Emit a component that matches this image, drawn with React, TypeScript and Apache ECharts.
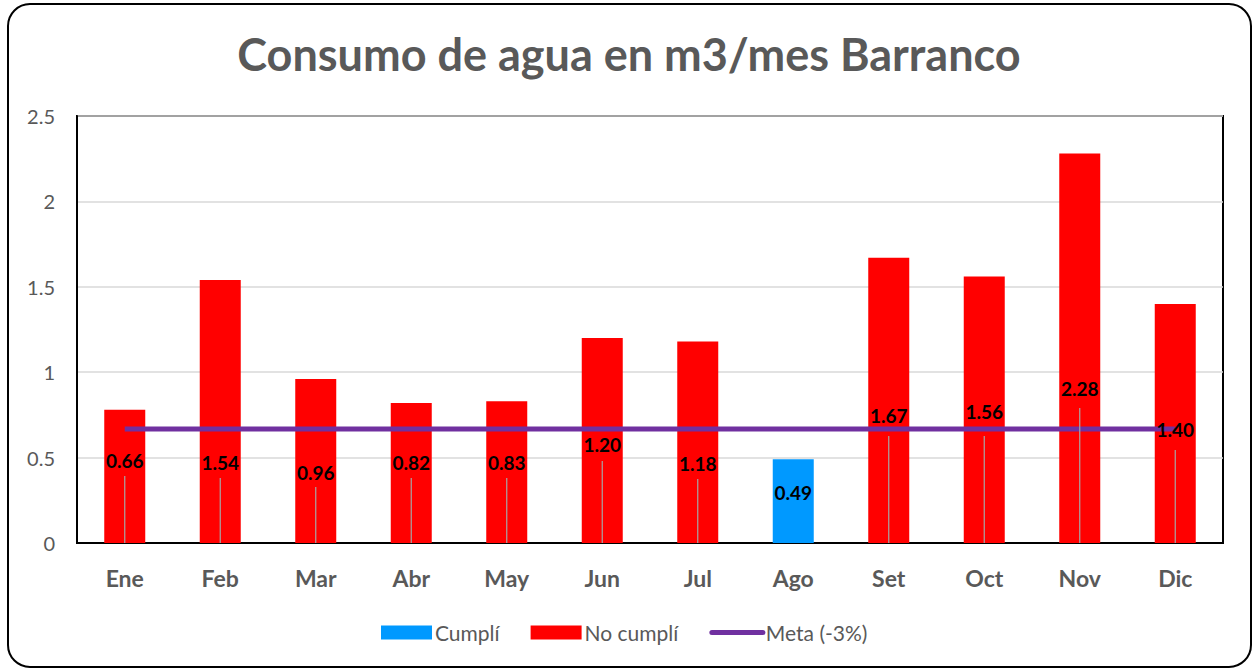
import React, { useEffect, useRef } from "react";
import * as echarts from "echarts";

const meses = ["Ene", "Feb", "Mar", "Abr", "May", "Jun", "Jul", "Ago", "Set", "Oct", "Nov", "Dic"];
const consumo = [0.78, 1.54, 0.96, 0.82, 0.83, 1.2, 1.18, 0.49, 1.67, 1.56, 2.28, 1.4];
const etiquetas = [0.66, 1.54, 0.96, 0.82, 0.83, 1.2, 1.18, 0.49, 1.67, 1.56, 2.28, 1.4];
const metaValor = 0.667;
const yTicks = [0, 0.5, 1, 1.5, 2, 2.5];

// label layout (pixels above the baseline): text centre and leader-line top
const labelLift = [83, 81, 71, 81, 81, 99, 80, 51, 128, 132, 155, 114];
const lineLift = [67, 65, 56, 65, 65, 82, 64, 0, 107, 107, 135, 93];

const GRAY = "#595959";
const FONT = "Lato, 'Noto Sans', sans-serif";

export default function App() {
  const ref = useRef<HTMLDivElement>(null);
  useEffect(() => {
    if (!ref.current) return;
    const chart = echarts.init(ref.current, undefined, { renderer: "svg" });
    const cumpli = consumo.map((v) => (v <= metaValor ? v : null));
    const noCumpli = consumo.map((v) => (v > metaValor ? v : null));
    chart.setOption({
      animation: false,
      backgroundColor: "#ffffff",
      textStyle: { fontFamily: FONT },
      title: {
        text: "Consumo de agua en m3/mes Barranco",
        left: "center",
        top: 26,
        textStyle: { fontFamily: FONT, fontWeight: "bold", fontSize: 45, color: GRAY },
      },
      graphic: [
        {
          type: "rect",
          shape: { x: 8, y: 4, width: 1243, height: 663, r: 22 },
          style: { fill: "none", stroke: "#000", lineWidth: 2 },
          silent: true,
        },
      ],
      legend: {
        data: [
          { name: "Cumplí", icon: "rect" },
          { name: "No cumplí", icon: "rect" },
          { name: "Meta (-3%)", itemStyle: { opacity: 0 }, lineStyle: { width: 5, cap: "round" } },
        ],
        left: 381,
        top: 622,
        padding: 0,
        itemWidth: 51,
        itemHeight: 14,
        itemGap: 31,
        textStyle: { fontFamily: FONT, fontSize: 21, color: GRAY, padding: [0, 0, 0, -2] },
      },
      grid: {
        left: 77,
        right: 35,
        top: 116,
        bottom: 125,
        show: true,
        borderColor: "#000",
        borderWidth: 2,
        containLabel: false,
      },
      xAxis: {
        type: "category",
        data: meses,
        boundaryGap: true,
        axisLine: { show: true, lineStyle: { color: "#000", width: 2 } },
        axisTick: { show: false },
        axisLabel: { fontFamily: FONT, fontSize: 23, fontWeight: "bold", color: GRAY, margin: 23 },
      },
      yAxis: {
        type: "value",
        min: yTicks[0],
        max: yTicks[yTicks.length - 1],
        interval: 0.5,
        axisLine: { show: true, lineStyle: { color: "#000", width: 2 } },
        axisTick: { show: false },
        splitLine: { show: true, lineStyle: { color: "#D9D9D9", width: 1.5 } },
        axisLabel: { fontFamily: FONT, fontSize: 20, color: GRAY, margin: 22 },
      },
      series: [
        {
          name: "Cumplí",
          type: "bar",
          data: cumpli,
          barWidth: 41,
          barGap: "-100%",
          itemStyle: { color: "#0099FF" },
          z: 2,
        },
        {
          name: "No cumplí",
          type: "bar",
          data: noCumpli,
          barWidth: 41,
          barGap: "-100%",
          itemStyle: { color: "#FF0000" },
          z: 2,
        },
        {
          name: "Meta (-3%)",
          type: "line",
          data: meses.map(() => metaValor),
          symbol: "none",
          showSymbol: false,
          lineStyle: { color: "#7030A0", width: 5 },
          itemStyle: { color: "#7030A0" },
          z: 3,
        },
        {
          name: "etiquetas",
          type: "custom",
          data: etiquetas.map((v, i) => [i, v]),
          z: 5,
          silent: true,
          renderItem: (params: any, api: any) => {
            const i = api.value(0);
            const v = api.value(1);
            const base = api.coord([i, 0]);
            const children: any[] = [];
            if (lineLift[i] > 0) {
              children.push({
                type: "line",
                shape: { x1: base[0], y1: base[1], x2: base[0], y2: base[1] - lineLift[i] },
                style: { stroke: "#A6A6A6", lineWidth: 1.2 },
              });
            }
            children.push({
              type: "text",
              x: base[0],
              y: base[1] - labelLift[i],
              style: {
                text: v.toFixed(2),
                align: "center",
                verticalAlign: "middle",
                fontFamily: FONT,
                fontSize: 19,
                fontWeight: "bold",
                fill: "#000",
              },
            });
            return { type: "group", children };
          },
        },
      ],
    });
    return () => chart.dispose();
  }, []);
  return (
    <div
      ref={ref}
      style={{ position: "fixed", left: 0, top: 0, width: 1258, height: 668 }}
    />
  );
}
